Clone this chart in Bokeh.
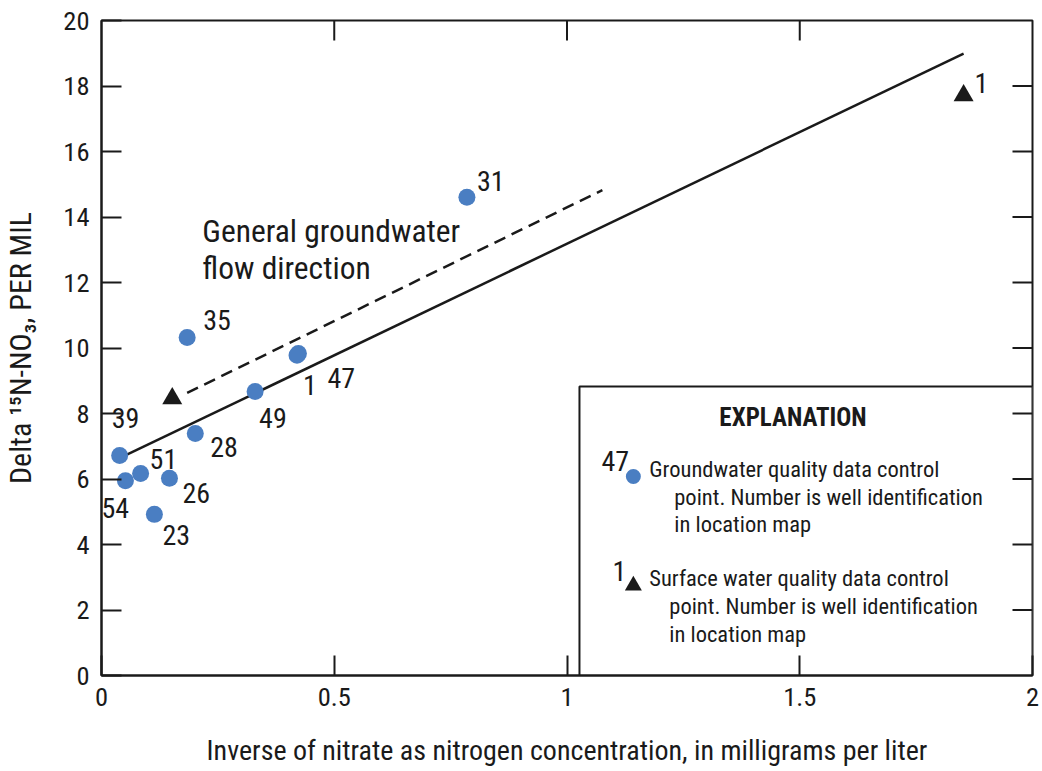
import math
from bokeh.plotting import figure
from bokeh.models import FixedTicker, NumeralTickFormatter, BoxAnnotation, Label, ColumnDataSource
from bokeh.core.properties import value
from bokeh.embed import file_html
from bokeh.resources import INLINE

# ---------------- data ----------------
gw_ids = ["31", "35", "47", "1", "49", "28", "39", "51", "54", "26", "23"]
gw_x = [0.785, 0.184, 0.423, 0.420, 0.330, 0.2015, 0.039, 0.084, 0.0514, 0.146, 0.1136]
gw_y = [14.60, 10.32, 9.83, 9.78, 8.67, 7.39, 6.72, 6.17, 5.95, 6.02, 4.92]

sw_ids = ["1", ""]
sw_x = [1.852, 0.152]
sw_y = [17.71, 8.46]

trend_x = [0.041, 1.852]
trend_y = [6.65, 18.99]

flow_x = [0.184, 1.076]
flow_y = [8.63, 14.82]

x_ticks = [0, 0.5, 1, 1.5, 2]
y_ticks = [0, 2, 4, 6, 8, 10, 12, 14, 16, 18, 20]

x_title = "Inverse of nitrate as nitrogen concentration, in milligrams per liter"
y_title = "Delta \u00b9\u2075N-NO\u2083, PER MIL"

# ---------------- layout / style ----------------
W, H = 1042, 771
L, R, T, B = 99, 1032, 20, 675
X0, X1, Y0, Y1 = 0, 2, 0, 20
FONT = "Roboto Condensed"
INK = "#1a1a1a"
BLUE = "#4a7ec2"

def dx(px):
    return X0 + (px - L) / (R - L) * (X1 - X0)

def dy(py):
    return Y0 + (B - py) / (B - T) * (Y1 - Y0)

gw_offsets = {"31": (10, -16), "35": (16, -18), "47": (29, 24), "1": (6, 30), "49": (4, 26),
              "28": (15, 14), "39": (-8, -37), "51": (9, -14), "54": (-24, 27), "26": (13, 15),
              "23": (8, 21)}
sw_offsets = {"1": (11, -12), "": (0, 0)}

p = figure(width=W, height=H, x_range=(X0, X1), y_range=(Y0, Y1),
           output_backend="svg", toolbar_location=None,
           min_border_left=L, min_border_right=W - R, min_border_top=T, min_border_bottom=H - B)
p.background_fill_color = "white"
p.border_fill_color = "white"
p.outline_line_color = INK
p.outline_line_width = 2
p.xgrid.visible = False
p.ygrid.visible = False

xax = p.xaxis[0]
yax = p.yaxis[0]
xax.ticker = FixedTicker(ticks=x_ticks)
xax.formatter = NumeralTickFormatter(format="0.[0]")
yax.ticker = FixedTicker(ticks=y_ticks)
for ax in (xax, yax):
    ax.axis_line_color = INK
    ax.axis_line_width = 2
    ax.major_tick_in = 20
    ax.major_tick_out = 0
    ax.major_tick_line_width = 2
    ax.major_tick_line_color = INK
    ax.minor_tick_line_color = None
    ax.major_label_text_font = FONT
    ax.major_label_text_color = INK
    ax.major_label_text_font_size = "26.5px"
    ax.axis_label_text_font = FONT
    ax.axis_label_text_font_style = "normal"
    ax.axis_label_text_color = INK
xax.major_label_standoff = 12
yax.major_label_standoff = 12
xax.axis_label = x_title
yax.axis_label = y_title
xax.axis_label_text_font_size = "28px"
yax.axis_label_text_font_size = "30px"
xax.axis_label_standoff = 25
yax.axis_label_standoff = 22

# inward ticks on top and right frame edges
inner_x = x_ticks[1:-1]
inner_y = y_ticks[1:-1]
p.ray(x=inner_x, y=[Y1] * len(inner_x), length=20, length_units="screen",
      angle=-math.pi / 2, line_color=INK, line_width=2)
p.ray(x=[X1] * len(inner_y), y=inner_y, length=20, length_units="screen",
      angle=math.pi, line_color=INK, line_width=2)

# legend box (explanation)
p.add_layout(BoxAnnotation(left=dx(578), right=X1, bottom=Y0, top=dy(386),
                           fill_color="white", fill_alpha=1.0, line_color=INK, line_alpha=1.0,
                           line_width=2, level="underlay"))

# lines
p.line(trend_x, trend_y, line_color=INK, line_width=2.5)
p.line(flow_x, flow_y, line_color=INK, line_width=2.5, line_dash="12 7")

# points
gw_src = ColumnDataSource(dict(x=gw_x, y=gw_y, id=gw_ids,
                               ox=[gw_offsets[i][0] for i in gw_ids],
                               oy=[gw_offsets[i][1] for i in gw_ids]))
sw_src = ColumnDataSource(dict(x=sw_x, y=sw_y, id=sw_ids,
                               ox=[sw_offsets[i][0] for i in sw_ids],
                               oy=[sw_offsets[i][1] for i in sw_ids]))
p.scatter("x", "y", source=gw_src, marker="circle", size=17, fill_color=BLUE, line_color=None)
p.scatter("x", "y", source=sw_src, marker="triangle", size=20, fill_color=INK, line_color=None)
for src in (gw_src, sw_src):
    p.text("x", "y", text="id", source=src, x_offset="ox", y_offset="oy",
           text_font=value(FONT), text_font_size="28px", text_color=INK,
           text_align="left", text_baseline="middle")

for txt, py in (("General groundwater", 231), ("flow direction", 268)):
    p.add_layout(Label(x=dx(200), y=dy(py), text=txt, text_font=FONT, text_font_size="31.5px",
                       text_color=INK, text_align="left", text_baseline="middle"))

p.add_layout(Label(x=dx(792), y=dy(417), text="EXPLANATION", text_font=FONT,
                   text_font_size="25px", text_font_style="bold", text_color=INK,
                   text_align="center", text_baseline="middle"))
p.scatter([dx(632)], [dy(476)], marker="circle", size=15, fill_color=BLUE, line_color=None)
p.scatter([dx(632)], [dy(585)], marker="triangle", size=17, fill_color=INK, line_color=None)
legend_nums = [("47", 600, 460), ("1", 611, 570)]
for txt, px, py in legend_nums:
    p.add_layout(Label(x=dx(px), y=dy(py), text=txt, text_font=FONT, text_font_size="28px",
                       text_color=INK, text_align="left", text_baseline="middle"))
legend_texts = [
    ("Groundwater quality data control", 648, 468),
    ("point. Number is well identification", 673, 496),
    ("in location map", 673, 523),
    ("Surface water quality data control", 648, 577),
    ("point. Number is well identification", 668, 605),
    ("in location map", 668, 633),
]
for txt, px, py in legend_texts:
    p.add_layout(Label(x=dx(px), y=dy(py), text=txt, text_font=FONT, text_font_size="22.5px",
                       text_color=INK, text_align="left", text_baseline="middle"))

open("out.html", "w").write(file_html(p, INLINE))
